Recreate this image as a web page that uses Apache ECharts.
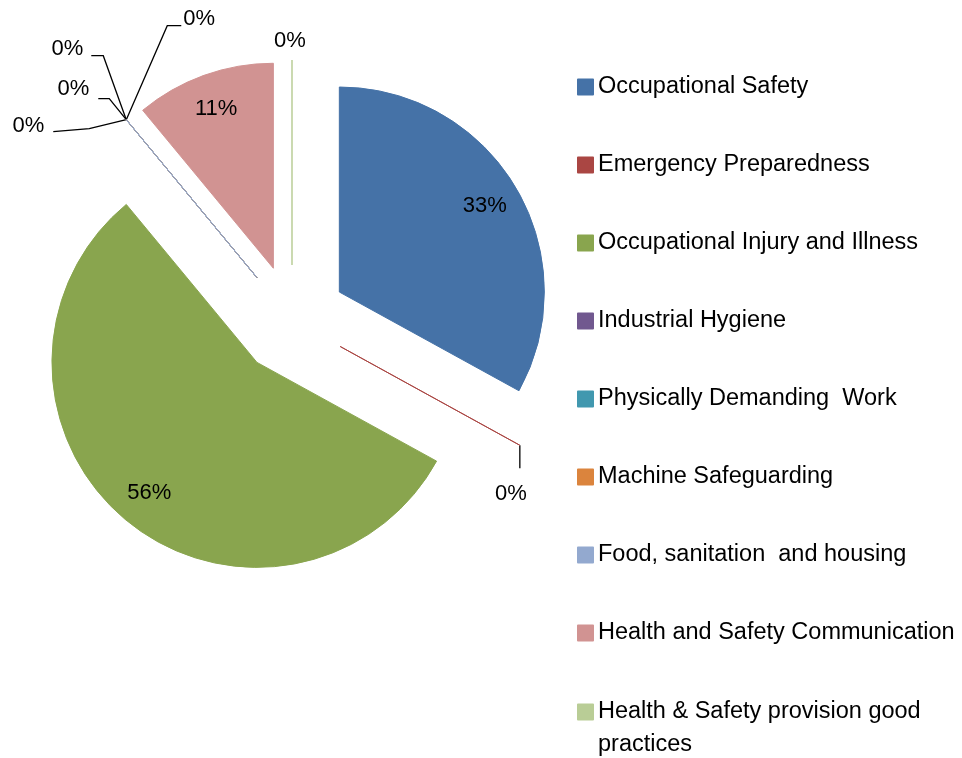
<!DOCTYPE html>
<html>
<head>
<meta charset="utf-8">
<script src="https://cdn.jsdelivr.net/npm/echarts@6/dist/echarts.min.js"></script>
<style>
  html, body { margin: 0; padding: 0; background: #fff; }
  #main { width: 962px; height: 758px; }
</style>
</head>
<body>
<div id="main"></div>
<script>
var categories = [
  'Occupational Safety',
  'Emergency Preparedness',
  'Occupational Injury and Illness',
  'Industrial Hygiene',
  'Physically Demanding  Work',
  'Machine Safeguarding',
  'Food, sanitation  and housing',
  'Health and Safety Communication',
  'Health & Safety provision good practices'
];
var shares = [33, 0, 56, 0, 0, 0, 0, 11, 0];
var colors = ['#4572A7', '#AA4643', '#89A54E', '#71588F', '#4198AF', '#DB843D', '#93A9CF', '#D19392', '#B9CD96'];

// 0% labels: alignment, side padding, vertical shift and leader line bends,
// all relative to the tip of the slice
var zeroLabels = {
  1: { align: 'center', pad: [0, 28, 0, 0], dy: 49, bend: [0, 23], end: [0, 23] },
  3: { align: 'right', pad: [0, 77, 0, 0], dy: 6, bend: [-37, 9], end: [-73, 12] },
  4: { align: 'right', pad: [0, 32, 0, 0], dy: -31, bend: [-17, -21], end: [-28, -21] },
  5: { align: 'right', pad: [0, 38, 0, 0], dy: -71, bend: [-23, -64], end: [-35, -64] },
  6: { align: 'left', pad: [0, 0, 0, 62], dy: -101, bend: [41, -94], end: [55, -94] },
  8: { align: 'center', pad: [0, 14, 0, 0], dy: -19, bend: [0, 0], end: [0, 0] }
};

var myChart = echarts.init(document.getElementById('main'));

var font = 'Liberation Sans';

var mainData = [];
var labelData = [];
for (var i = 0; i < categories.length; i++) {
  var z = zeroLabels[i];
  var lbl = { show: !!z };
  if (z) {
    lbl.padding = z.pad;
    if (z.dy) lbl.lineHeight = Math.abs(z.dy) * 2;
  }
  mainData.push({
    name: categories[i],
    value: shares[i],
    selected: true,
    itemStyle: { color: colors[i], borderColor: colors[i], borderWidth: 1 },
    label: lbl,
    labelLine: { show: !!z, length: 0, length2: 0 }
  });
  labelData.push({
    name: categories[i],
    value: shares[i],
    selected: true,
    label: { show: shares[i] > 0 }
  });
}

var option = {
  backgroundColor: '#fff',
  animation: false,
  color: colors,
  legend: [{
    orient: 'vertical',
    left: 577,
    top: 70.5,
    padding: 0,
    itemWidth: 15,
    itemHeight: 15,
    itemGap: 45,
    selectedMode: false,
    icon: 'rect',
    data: categories.slice(0, 8),
    textStyle: { fontFamily: font, fontSize: 23.5, lineHeight: 33, color: '#000' }
  }, {
    orient: 'vertical',
    left: 577,
    top: 662.5,
    padding: 0,
    itemWidth: 15,
    itemHeight: 15,
    selectedMode: false,
    icon: 'rect',
    data: categories.slice(8),
    formatter: function (name) { return '\n' + name; },
    textStyle: { fontFamily: font, fontSize: 23.5, lineHeight: 33, color: '#000',
      width: 355, overflow: 'break' }
  }],
  series: [{
    name: 'main',
    type: 'pie',
    center: [292, 320],
    radius: 205,
    startAngle: 90,
    clockwise: true,
    selectedMode: 'multiple',
    selectedOffset: 55,
    avoidLabelOverlap: false,
    percentPrecision: 0,
    emphasis: { disabled: true },
    label: {
      position: 'outside',
      formatter: function (p) {
        var t = p.percent + '%';
        var z = zeroLabels[p.dataIndex];
        if (!z || !z.dy) return t;
        // an empty line above or below moves the text off the anchor
        return z.dy < 0 ? t + '\n' : '\n' + t;
      },
      fontFamily: font,
      fontSize: 22,
      color: '#000'
    },
    labelLine: { lineStyle: { color: '#000', width: 1.3 } },
    labelLayout: function (params) {
      var m = zeroLabels[params.dataIndex];
      if (!m || !params.labelLinePoints) return;
      var a = params.labelLinePoints[0];
      return {
        align: m.align,
        verticalAlign: 'middle',
        labelLinePoints: [
          [a[0], a[1]],
          [a[0] + m.bend[0], a[1] + m.bend[1]],
          [a[0] + m.end[0], a[1] + m.end[1]]
        ]
      };
    },
    data: mainData
  }, {
    name: 'labels',
    type: 'pie',
    center: [292, 320],
    radius: [127, 205],
    startAngle: 90,
    clockwise: true,
    selectedMode: 'multiple',
    selectedOffset: 55,
    silent: true,
    avoidLabelOverlap: false,
    percentPrecision: 0,
    itemStyle: { color: 'rgba(0,0,0,0)', borderWidth: 0 },
    label: {
      position: 'inside',
      formatter: '{d}%',
      fontFamily: font,
      fontSize: 22,
      color: '#000'
    },
    labelLine: { show: false },
    data: labelData
  }]
};
myChart.setOption(option);
</script>
</body>
</html>
